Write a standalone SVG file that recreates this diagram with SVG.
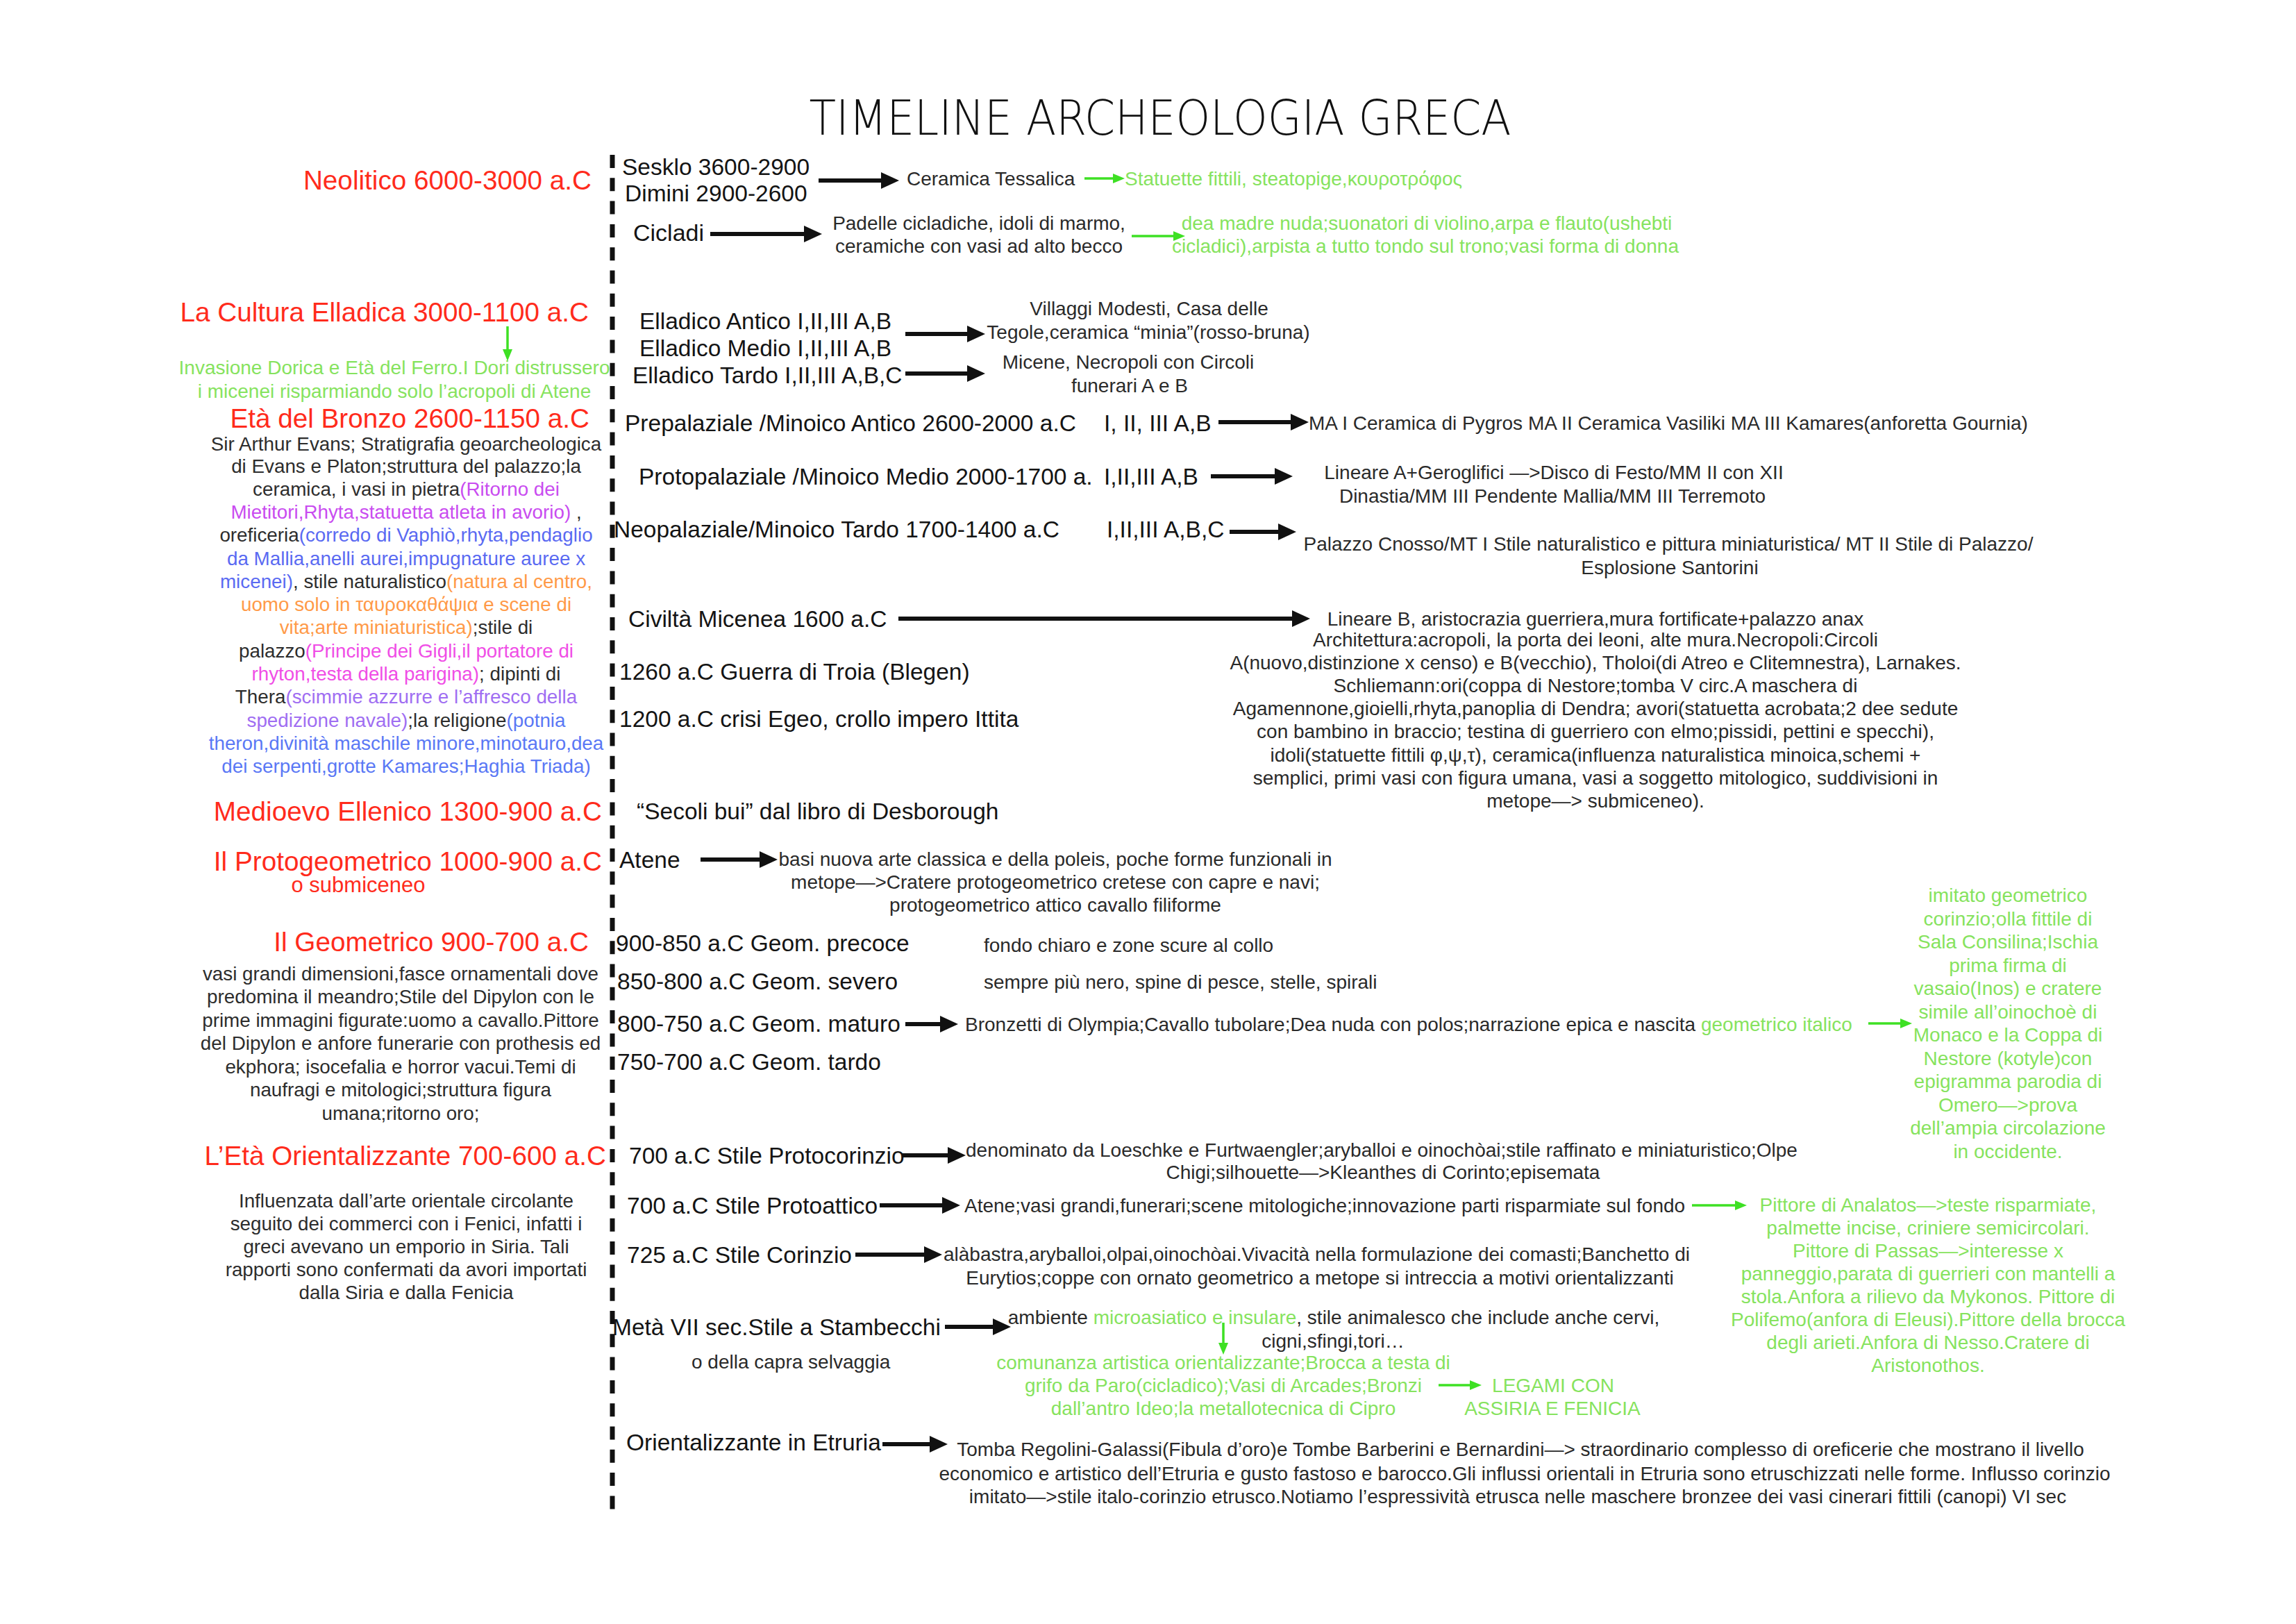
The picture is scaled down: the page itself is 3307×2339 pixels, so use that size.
<svg xmlns="http://www.w3.org/2000/svg" width="3307" height="2339" viewBox="0 0 3307 2339">
<defs>
<style>
text{font-family:"Liberation Sans",Arial,Helvetica,sans-serif;}
.title{font-family:"DejaVu Sans",sans-serif;font-weight:200;font-size:70px;fill:#111;}
.h{font-size:38.7px;fill:#ff2b1c;text-anchor:end;}
.hs{font-size:31px;fill:#ff2b1c;text-anchor:middle;}
.b{font-size:27.8px;fill:#2d2d2d;text-anchor:middle;}
.l{font-size:33.5px;fill:#141414;}
.d{font-size:28px;fill:#2a2a2a;}
.dm{font-size:28px;fill:#2a2a2a;text-anchor:middle;}
.g{fill:#86e35e;}
.gm{font-size:28px;fill:#86e35e;text-anchor:middle;}
.pu{fill:#c94cf0;}
.bl{fill:#5a6af2;}
.or{fill:#ff9a48;}
.pk{fill:#f04ee6;}
.vi{fill:#9f6ef2;}
.bl2{fill:#5a78f5;}
.arr{stroke:#111;stroke-width:6;fill:none;marker-end:url(#ah);}
.garr{stroke:#3ee024;stroke-width:3.5;fill:none;marker-end:url(#gh);}
.axis{stroke:#111;stroke-width:7;stroke-dasharray:19 14.3;fill:none;}
</style>
<marker id="ah" markerUnits="userSpaceOnUse" markerWidth="26" markerHeight="24" refX="2" refY="12" orient="auto"><path d="M0,0 L26,12 L0,24 z" fill="#111"/></marker>
<marker id="gh" markerUnits="userSpaceOnUse" markerWidth="17" markerHeight="14" refX="2" refY="7" orient="auto"><path d="M0,0 L17,7 L0,14 z" fill="#3ee024"/></marker>
</defs>
<rect width="3307" height="2339" fill="#ffffff"/>

<g id="title"><text class="title" x="1671" y="194" text-anchor="middle" textLength="1011" lengthAdjust="spacingAndGlyphs">TIMELINE ARCHEOLOGIA GRECA</text></g>

<g id="timeline-axis"><path class="axis" d="M882,223 V2175"/></g>

<!-- LEFT COLUMN -->
<g id="neolitico"><text class="h" x="852" y="273">Neolitico 6000-3000 a.C</text></g>
<g id="cultura-elladica"><text class="h" x="848" y="463">La Cultura Elladica 3000-1100 a.C</text></g>
<g id="invasione-dorica">
<text class="gm" x="568" y="539">Invasione Dorica e Età del Ferro.I Dori distrussero</text>
<text class="gm" x="568" y="573">i micenei risparmiando solo l’acropoli di Atene</text>
</g>
<g id="eta-bronzo">
<text class="h" x="849" y="616">Età del Bronzo 2600-1150 a.C</text>
<text class="b" x="585" y="649">Sir Arthur Evans; Stratigrafia geoarcheologica</text>
<text class="b" x="585" y="681">di Evans e Platon;struttura del palazzo;la</text>
<text class="b" x="585" y="714">ceramica, i vasi in pietra<tspan class="pu">(Ritorno dei</tspan></text>
<text class="b" x="585" y="747"><tspan class="pu">Mietitori,Rhyta,statuetta atleta in avorio)</tspan> ,</text>
<text class="b" x="585" y="780">oreficeria<tspan class="bl">(corredo di Vaphiò,rhyta,pendaglio</tspan></text>
<text class="b" x="585" y="814"><tspan class="bl">da Mallia,anelli aurei,impugnature auree x</tspan></text>
<text class="b" x="585" y="847"><tspan class="bl">micenei)</tspan>, stile naturalistico<tspan class="or">(natura al centro,</tspan></text>
<text class="b" x="585" y="880"><tspan class="or">uomo solo in ταυροκαθάψια e scene di</tspan></text>
<text class="b" x="585" y="913"><tspan class="or">vita;arte miniaturistica)</tspan>;stile di</text>
<text class="b" x="585" y="947">palazzo<tspan class="pk">(Principe dei Gigli,il portatore di</tspan></text>
<text class="b" x="585" y="980"><tspan class="pk">rhyton,testa della parigina)</tspan>; dipinti di</text>
<text class="b" x="585" y="1013">Thera<tspan class="vi">(scimmie azzurre e l’affresco della</tspan></text>
<text class="b" x="585" y="1047"><tspan class="vi">spedizione navale)</tspan>;la religione<tspan class="bl2">(potnia</tspan></text>
<text class="b" x="585" y="1080"><tspan class="bl2">theron,divinità maschile minore,minotauro,dea</tspan></text>
<text class="b" x="585" y="1113"><tspan class="bl2">dei serpenti,grotte Kamares;Haghia Triada)</tspan></text>
</g>
<g id="medioevo-ellenico"><text class="h" x="867" y="1182">Medioevo Ellenico 1300-900 a.C</text></g>
<g id="protogeometrico">
<text class="h" x="867" y="1254">Il Protogeometrico 1000-900 a.C</text>
<text class="hs" x="516" y="1285">o submiceneo</text>
</g>
<g id="geometrico">
<text class="h" x="848" y="1370">Il Geometrico 900-700 a.C</text>
<text class="b" x="577" y="1412">vasi grandi dimensioni,fasce ornamentali dove</text>
<text class="b" x="577" y="1445">predomina il meandro;Stile del Dipylon con le</text>
<text class="b" x="577" y="1479">prime immagini figurate:uomo a cavallo.Pittore</text>
<text class="b" x="577" y="1512">del Dipylon e anfore funerarie con prothesis ed</text>
<text class="b" x="577" y="1546">ekphora; isocefalia e horror vacui.Temi di</text>
<text class="b" x="577" y="1579">naufragi e mitologici;struttura figura</text>
<text class="b" x="577" y="1613">umana;ritorno oro;</text>
</g>
<g id="orientalizzante">
<text class="h" x="873" y="1678">L’Età Orientalizzante 700-600 a.C</text>
<text class="b" x="585" y="1739">Influenzata dall’arte orientale circolante</text>
<text class="b" x="585" y="1772">seguito dei commerci con i Fenici, infatti i</text>
<text class="b" x="585" y="1805">greci avevano un emporio in Siria. Tali</text>
<text class="b" x="585" y="1838">rapporti sono confermati da avori importati</text>
<text class="b" x="585" y="1871">dalla Siria e dalla Fenicia</text>
</g>

<!-- MIDDLE / RIGHT -->
<g id="sesklo-dimini">
<text class="l" x="896" y="252">Sesklo 3600-2900</text>
<text class="l" x="900" y="290">Dimini 2900-2600</text>
</g>
<g id="ceramica-tessalica"><text class="d" x="1306" y="267">Ceramica Tessalica</text></g>
<g id="statuette"><text class="d g" x="1620" y="267">Statuette fittili, steatopige,κουροτρόφος</text></g>

<g id="cicladi"><text class="l" x="912" y="347" style="font-size:34px">Cicladi</text></g>
<g id="padelle">
<text class="dm" x="1410" y="331">Padelle cicladiche, idoli di marmo,</text>
<text class="dm" x="1410" y="364">ceramiche con vasi ad alto becco</text>
</g>
<g id="dea-madre">
<text class="gm" x="2055" y="331">dea madre nuda;suonatori di violino,arpa e flauto(ushebti</text>
<text class="gm" x="2053" y="364">cicladici),arpista a tutto tondo sul trono;vasi forma di donna</text>
</g>

<g id="elladico">
<text class="l" x="921" y="474">Elladico Antico I,II,III A,B</text>
<text class="l" x="921" y="513">Elladico Medio I,II,III A,B</text>
<text class="l" x="911" y="552">Elladico Tardo I,II,III A,B,C</text>
</g>
<g id="villaggi">
<text class="dm" x="1655" y="454">Villaggi Modesti, Casa delle</text>
<text class="dm" x="1654" y="488">Tegole,ceramica “minia”(rosso-bruna)</text>
</g>
<g id="micene-circoli">
<text class="dm" x="1625" y="531">Micene, Necropoli con Circoli</text>
<text class="dm" x="1627" y="565">funerari A e B</text>
</g>

<g id="prepalaziale">
<text class="l" x="900" y="621">Prepalaziale /Minoico Antico 2600-2000 a.C</text>
<text class="l" x="1590" y="621">I, II, III A,B</text>
</g>
<g id="ma-ceramica"><text class="d" x="1885" y="619">MA I Ceramica di Pygros  MA II Ceramica Vasiliki MA III Kamares(anforetta Gournia)</text></g>

<g id="protopalaziale">
<text class="l" x="920" y="698">Protopalaziale /Minoico Medio 2000-1700 a.</text>
<text class="l" x="1590" y="698">I,II,III A,B</text>
</g>
<g id="lineare-a">
<text class="dm" x="2238" y="690">Lineare A+Geroglifici —&gt;Disco di Festo/MM II con XII</text>
<text class="dm" x="2236" y="724">Dinastia/MM III Pendente Mallia/MM III Terremoto</text>
</g>

<g id="neopalaziale">
<text class="l" x="884" y="774">Neopalaziale/Minoico Tardo 1700-1400 a.C</text>
<text class="l" x="1594" y="774">I,II,III A,B,C</text>
</g>
<g id="palazzo-cnosso">
<text class="dm" x="2403" y="793">Palazzo Cnosso/MT I Stile naturalistico e pittura miniaturistica/ MT II Stile di Palazzo/</text>
<text class="dm" x="2405" y="827">Esplosione Santorini</text>
</g>

<g id="civilta-micenea"><text class="l" x="905" y="903">Civiltà Micenea 1600 a.C</text></g>
<g id="micenea-desc">
<text class="dm" x="2298" y="901">Lineare B, aristocrazia guerriera,mura fortificate+palazzo anax</text>
<text class="dm" x="2298" y="931">Architettura:acropoli, la porta dei leoni, alte mura.Necropoli:Circoli</text>
<text class="dm" x="2298" y="964">A(nuovo,distinzione x censo) e B(vecchio), Tholoi(di Atreo e Clitemnestra), Larnakes.</text>
<text class="dm" x="2298" y="997">Schliemann:ori(coppa di Nestore;tomba V circ.A maschera di</text>
<text class="dm" x="2298" y="1030">Agamennone,gioielli,rhyta,panoplia di Dendra; avori(statuetta acrobata;2 dee sedute</text>
<text class="dm" x="2298" y="1063">con bambino in braccio; testina di guerriero con elmo;pissidi, pettini e specchi),</text>
<text class="dm" x="2298" y="1097">idoli(statuette fittili φ,ψ,τ), ceramica(influenza naturalistica minoica,schemi +</text>
<text class="dm" x="2298" y="1130">semplici, primi vasi con figura umana, vasi a soggetto mitologico, suddivisioni in</text>
<text class="dm" x="2298" y="1163">metope—&gt; submiceneo).</text>
</g>
<g id="guerra-troia"><text class="l" x="892" y="979">1260 a.C Guerra di Troia (Blegen)</text></g>
<g id="crisi-egeo"><text class="l" x="892" y="1047">1200 a.C crisi Egeo, crollo impero Ittita</text></g>
<g id="secoli-bui"><text class="l" x="917" y="1180">“Secoli bui” dal libro di Desborough</text></g>

<g id="atene"><text class="l" x="892" y="1250">Atene</text></g>
<g id="atene-desc">
<text class="dm" x="1520" y="1247">basi nuova arte classica e della poleis, poche forme funzionali in</text>
<text class="dm" x="1520" y="1280">metope—&gt;Cratere protogeometrico cretese con capre e navi;</text>
<text class="dm" x="1520" y="1313">protogeometrico attico cavallo filiforme</text>
</g>

<g id="geom-precoce">
<text class="l" x="887" y="1370">900-850 a.C Geom. precoce</text>
<text class="d" x="1417" y="1371">fondo chiaro e zone scure al collo</text>
</g>
<g id="geom-severo">
<text class="l" x="889" y="1425">850-800 a.C Geom. severo</text>
<text class="d" x="1417" y="1424">sempre più nero, spine di pesce, stelle, spirali</text>
</g>
<g id="geom-maturo">
<text class="l" x="889" y="1486">800-750 a.C Geom. maturo</text>
<text class="d" x="1390" y="1485">Bronzetti di Olympia;Cavallo tubolare;Dea nuda con polos;narrazione epica e nascita <tspan class="g">geometrico italico</tspan></text>
</g>
<g id="geom-tardo"><text class="l" x="889" y="1541">750-700 a.C Geom. tardo</text></g>
<g id="geometrico-italico">
<text class="gm" x="2892" y="1299">imitato geometrico</text>
<text class="gm" x="2892" y="1333">corinzio;olla fittile di</text>
<text class="gm" x="2892" y="1366">Sala Consilina;Ischia</text>
<text class="gm" x="2892" y="1400">prima firma di</text>
<text class="gm" x="2892" y="1433">vasaio(Inos) e cratere</text>
<text class="gm" x="2892" y="1467">simile all’oinochoè di</text>
<text class="gm" x="2892" y="1500">Monaco e la Coppa di</text>
<text class="gm" x="2892" y="1534">Nestore (kotyle)con</text>
<text class="gm" x="2892" y="1567">epigramma parodia di</text>
<text class="gm" x="2892" y="1601">Omero—&gt;prova</text>
<text class="gm" x="2892" y="1634">dell’ampia circolazione</text>
<text class="gm" x="2892" y="1668">in occidente.</text>
</g>

<g id="protocorinzio">
<text class="l" x="906" y="1676">700 a.C Stile Protocorinzio</text>
<text class="d" x="1391" y="1666">denominato da Loeschke e Furtwaengler;aryballoi e oinochòai;stile raffinato e miniaturistico;Olpe</text>
<text class="dm" x="1992" y="1698">Chigi;silhouette—&gt;Kleanthes di Corinto;episemata</text>
</g>
<g id="protoattico">
<text class="l" x="903" y="1748">700 a.C Stile Protoattico</text>
<text class="d" x="1389" y="1746">Atene;vasi grandi,funerari;scene mitologiche;innovazione parti risparmiate sul fondo</text>
</g>
<g id="pittori-attici">
<text class="gm" x="2777" y="1745">Pittore di Analatos—&gt;teste risparmiate,</text>
<text class="gm" x="2777" y="1778">palmette incise, criniere semicircolari.</text>
<text class="gm" x="2777" y="1811">Pittore di Passas—&gt;interesse x</text>
<text class="gm" x="2777" y="1844">panneggio,parata di guerrieri con mantelli a</text>
<text class="gm" x="2777" y="1877">stola.Anfora a rilievo da Mykonos. Pittore di</text>
<text class="gm" x="2777" y="1910">Polifemo(anfora di Eleusi).Pittore della brocca</text>
<text class="gm" x="2777" y="1943">degli arieti.Anfora di Nesso.Cratere di</text>
<text class="gm" x="2777" y="1976">Aristonothos.</text>
</g>
<g id="corinzio">
<text class="l" x="903" y="1819">725 a.C Stile Corinzio</text>
<text class="d" x="1359" y="1816">alàbastra,aryballoi,olpai,oinochòai.Vivacità nella formulazione dei comasti;Banchetto di</text>
<text class="dm" x="1901" y="1850">Eurytios;coppe con ornato geometrico a metope si intreccia a motivi orientalizzanti</text>
</g>
<g id="stambecchi">
<text class="l" x="882" y="1923">Metà VII sec.Stile a Stambecchi</text>
<text class="d" x="996" y="1971">o della capra selvaggia</text>
<text class="dm" x="1921" y="1907">ambiente <tspan class="g">microasiatico e insulare</tspan>, stile animalesco che include anche cervi,</text>
<text class="dm" x="1920" y="1941">cigni,sfingi,tori…</text>
</g>
<g id="comunanza">
<text class="gm" x="1762" y="1972">comunanza artistica orientalizzante;Brocca a testa di</text>
<text class="gm" x="1762" y="2005">grifo da Paro(cicladico);Vasi di Arcades;Bronzi</text>
<text class="gm" x="1762" y="2038">dall’antro Ideo;la metallotecnica di Cipro</text>
</g>
<g id="legami">
<text class="gm" x="2237" y="2005">LEGAMI CON</text>
<text class="gm" x="2236" y="2038">ASSIRIA E FENICIA</text>
</g>
<g id="etruria">
<text class="l" x="902" y="2089">Orientalizzante in Etruria</text>
</g>
<g id="etruria-desc">
<text class="dm" x="2190" y="2097">Tomba Regolini-Galassi(Fibula d’oro)e Tombe Barberini e Bernardini—&gt; straordinario complesso di oreficerie che mostrano il livello</text>
<text class="dm" x="2196" y="2132">economico e artistico dell’Etruria e gusto fastoso e barocco.Gli influssi orientali in Etruria sono etruschizzati nelle forme. Influsso corinzio</text>
<text class="dm" x="2186" y="2165">imitato—&gt;stile italo-corinzio etrusco.Notiamo l’espressività etrusca nelle maschere bronzee dei vasi cinerari fittili (canopi) VI sec</text>
</g>

<g id="connectors">
<path class="arr" d="M1179,260 H1271"/>
<path class="arr" d="M1023,337 H1160"/>
<path class="arr" d="M1304,481 H1395"/>
<path class="arr" d="M1304,538 H1395"/>
<path class="arr" d="M1755,608 H1861"/>
<path class="arr" d="M1744,686 H1838"/>
<path class="arr" d="M1771,766 H1843"/>
<path class="arr" d="M1294,891 H1863"/>
<path class="arr" d="M1009,1238 H1096"/>
<path class="arr" d="M1304,1475 H1356"/>
<path class="arr" d="M1299,1664 H1367"/>
<path class="arr" d="M1267,1736 H1359"/>
<path class="arr" d="M1232,1807 H1333"/>
<path class="arr" d="M1361,1911 H1432"/>
<path class="arr" d="M1271,2080 H1341"/>
<path class="garr" d="M1562,257 H1605"/>
<path class="garr" d="M1630,340 H1692"/>
<path class="garr" d="M731,470 V505"/>
<path class="garr" d="M2691,1474 H2739"/>
<path class="garr" d="M2437,1736 H2501"/>
<path class="garr" d="M1762,1905 V1936"/>
<path class="garr" d="M2072,1995 H2119"/>
</g>
</svg>
